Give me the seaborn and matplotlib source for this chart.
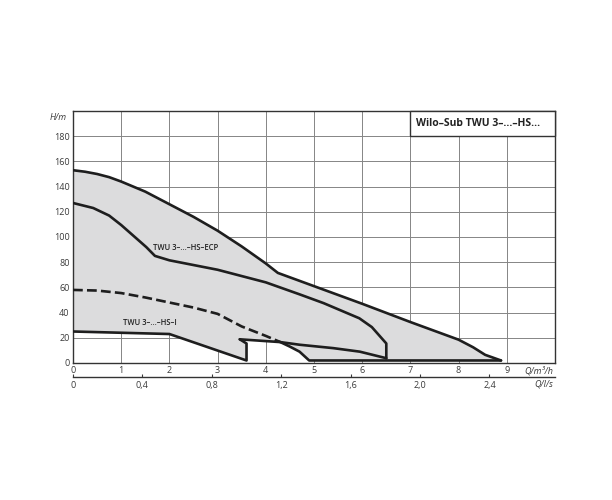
import matplotlib
matplotlib.use("Agg")
import matplotlib.pyplot as plt
from matplotlib.patches import Rectangle
import numpy as np
import seaborn as sns

# Q in m3/h, H in m
outer_q = [0, 0.25, 0.5, 0.75, 1.0, 1.5, 2.0, 2.5, 3.0, 3.5, 4.0, 4.25, 5.0, 6.0, 7.0, 8.0, 8.3, 8.55, 8.88]
outer_h = [153, 151.8, 150, 147.5, 144, 136, 126, 116, 105, 92.5, 79, 71.5, 61, 47, 32.5, 18.5, 12.5, 6.5, 2]

ecp_inner_q = [0, 0.42, 0.75, 1.0, 1.52, 1.7, 2.0, 3.0, 4.0, 4.7, 5.2, 5.94, 6.2, 6.5, 6.5]
ecp_inner_h = [127, 123, 117, 109.5, 92, 85, 81.5, 74, 64, 54.5, 47.5, 35.5, 28.5, 15.5, 3.7]

ecp_min_q = [0, 0.5, 1.0, 1.5, 2.0, 2.5, 3.0, 3.5, 4.0, 4.29]
ecp_min_h = [58, 57.5, 55.5, 52, 48, 44, 39, 29, 21.5, 16.8]

ecp_tail_q = [4.29, 4.5, 4.7, 4.9, 8.88]
ecp_tail_h = [16.8, 13, 9, 2, 2]

hs_i_q = [0, 2.0, 3.6, 3.6, 3.46]
hs_i_h = [25, 23, 2, 15.5, 18.8]

notch_q = [3.46, 4.3, 4.7, 5.4, 5.95, 6.5]
notch_h = [18.8, 16.6, 14.5, 11.8, 9.0, 3.8]

y_ticks = list(range(0, 181, 20))
x_ticks = list(range(0, 10))
ls_ticks = [0, 0.4, 0.8, 1.2, 1.6, 2.0, 2.4]
ls_labels = ["0", "0,4", "0,8", "1,2", "1,6", "2,0", "2,4"]

title = "Wilo–Sub TWU 3–...–HS..."
label_ecp = "TWU 3–...–HS–ECP"
label_i = "TWU 3–...–HS–I"

sns.set_style("white")
plt.rcParams["font.family"] = ["Open Sans", "DejaVu Sans"]

line_c = "#1e1e1e"
fill_c = "#dcdcdd"
grid_c = "#858585"
text_c = "#3a3a3a"

fig = plt.figure(figsize=(6.12, 5.0), dpi=100)
ax = fig.add_axes([73 / 612, 1 - 363 / 500, 482 / 612, 252 / 500])

# shaded operating range
poly_q = np.concatenate([outer_q, ecp_tail_q[::-1][1:], notch_q[1::-1][1:], hs_i_q[::-1]])
poly_h = np.concatenate([outer_h, ecp_tail_h[::-1][1:], notch_h[1::-1][1:], hs_i_h[::-1]])
ax.fill(poly_q, poly_h, color=fill_c, lw=0, zorder=1)

lw = 1.9
for q, h in [(outer_q, outer_h), (ecp_inner_q, ecp_inner_h), (ecp_tail_q, ecp_tail_h),
             (hs_i_q, hs_i_h), (notch_q, notch_h)]:
    sns.lineplot(x=q, y=h, sort=False, estimator=None, ax=ax, color=line_c,
                 linewidth=lw, zorder=4, solid_joinstyle="round", solid_capstyle="round")
sns.lineplot(x=ecp_min_q, y=ecp_min_h, sort=False, estimator=None, ax=ax,
             color=line_c, linewidth=lw, linestyle="--", zorder=4)

ax.set_xlim(0, 10)
ax.set_ylim(0, 200)
ax.set_xticks(x_ticks)
ax.set_yticks(y_ticks)
ax.grid(True, color=grid_c, linewidth=0.7, zorder=0)
ax.set_axisbelow(True)
ax.tick_params(axis="both", length=0, labelsize=6.5, colors=text_c, pad=2.5)
for s in ax.spines.values():
    s.set_color("#333333")
    s.set_linewidth(1.0)

# title box
ax.add_patch(Rectangle((7, 180), 3, 20, facecolor="white", edgecolor="#333333",
                       linewidth=1.0, zorder=3, clip_on=False))
ax.text(7.12, 190, title, fontsize=7.5, fontweight="bold", color="#222222",
        va="center", ha="left", zorder=5)

ax.text(1.66, 92, label_ecp, fontsize=5.5, fontweight="semibold", color="#222222",
        va="center", ha="left", zorder=5)
ax.text(1.04, 32, label_i, fontsize=5.5, fontweight="semibold", color="#222222",
        va="center", ha="left", zorder=5)

# second flow axis in l/s
sec = ax.secondary_xaxis(-14 / 252, functions=(lambda q: q / 3.6, lambda q: q * 3.6))
sec.set_xticks(ls_ticks)
sec.set_xticklabels(ls_labels)
sec.tick_params(axis="x", direction="in", length=2, width=0.8, colors=text_c,
                labelsize=6.5, pad=3)
sec.spines["bottom"].set_color("#333333")
sec.spines["bottom"].set_linewidth(1.0)

ax.text(0.996, -0.032, "Q/m³/h", transform=ax.transAxes, fontsize=6.5,
        style="italic", color=text_c, ha="right", va="center")
ax.text(0.996, -0.084, "Q/l/s", transform=ax.transAxes, fontsize=6.5,
        style="italic", color=text_c, ha="right", va="center")
ax.text(-0.012, 0.976, "H/m", transform=ax.transAxes, fontsize=6.5,
        style="italic", color=text_c, ha="right", va="center")

ax.set_xlabel("")
ax.set_ylabel("")
fig.savefig("out.png", dpi=100)
